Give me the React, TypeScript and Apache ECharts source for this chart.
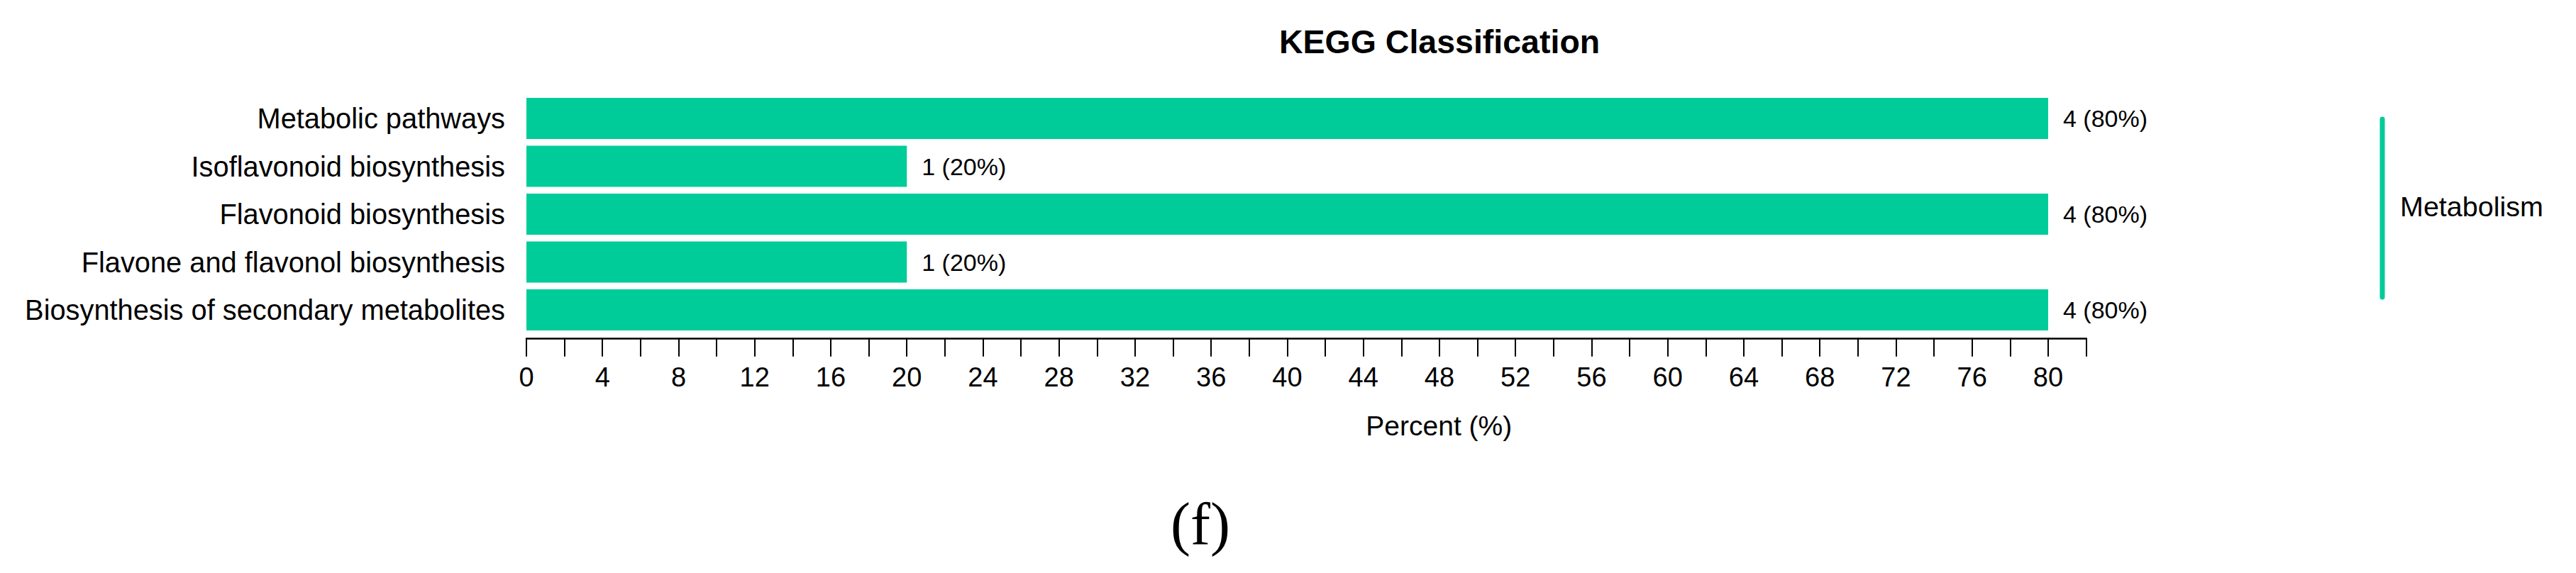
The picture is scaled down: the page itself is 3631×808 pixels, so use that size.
import React, { useEffect, useRef } from "react";
import * as echarts from "echarts";

const categories = [
  "Metabolic pathways",
  "Isoflavonoid biosynthesis",
  "Flavonoid biosynthesis",
  "Flavone and flavonol biosynthesis",
  "Biosynthesis of secondary metabolites",
];
const geneCounts = [4, 1, 4, 1, 4];
const percents = [80, 20, 80, 20, 80];
const classLabel = "Metabolism";
const titleText = "KEGG Classification";
const axisName = "Percent (%)";
const panelLabel = "(f)";

const SANS = '"Liberation Sans", Arial, Helvetica, sans-serif';
const SERIF = '"Liberation Serif", "Times New Roman", serif';
const GREEN = "#00CC99";

export default function App() {
  const ref = useRef<HTMLDivElement>(null);
  useEffect(() => {
    if (!ref.current) return;
    const chart = echarts.init(ref.current, null, { renderer: "svg" });
    chart.setOption({
      animation: false,
      backgroundColor: "#ffffff",
      title: {
        text: titleText,
        left: 1803,
        top: 35,
        padding: 0,
        textStyle: { fontFamily: SANS, fontSize: 46.5, fontWeight: "bold", color: "#000" },
      },
      grid: { left: 742, right: 690.4, top: 133.25, height: 337.5, containLabel: false },
      xAxis: {
        type: "value",
        min: 0,
        max: 82,
        interval: 2,
        offset: 6,
        splitLine: { show: false },
        axisLine: { show: true, lineStyle: { color: "#000", width: 2.5 } },
        axisTick: { show: true, length: 26, lineStyle: { color: "#000", width: 2 } },
        axisLabel: {
          margin: 36,
          fontFamily: SANS,
          fontSize: 38,
          color: "#000",
          showMaxLabel: true,
          formatter: (v: number) => (v % 4 === 0 ? String(v) : ""),
        },
        name: axisName,
        nameLocation: "middle",
        nameGap: 104,
        nameTextStyle: {
          fontFamily: SANS,
          fontSize: 39,
          color: "#000",
          padding: [0, 0, 0, 374],
        },
      },
      yAxis: {
        type: "category",
        inverse: true,
        data: categories,
        axisLine: { show: false },
        axisTick: { show: false },
        axisLabel: { margin: 30, fontFamily: SANS, fontSize: 39.8, color: "#000" },
      },
      series: [
        {
          type: "bar",
          data: percents,
          barWidth: 58,
          itemStyle: { color: GREEN },
          label: {
            show: true,
            position: "right",
            distance: 21,
            fontFamily: SANS,
            fontSize: 34,
            color: "#000",
            formatter: (p: any) => `${geneCounts[p.dataIndex]} (${percents[p.dataIndex]}%)`,
          },
        },
      ],
      graphic: [
        {
          type: "line",
          shape: { x1: 3358, y1: 168, x2: 3358, y2: 419 },
          style: { stroke: GREEN, lineWidth: 7, lineCap: "round" },
        },
        {
          type: "text",
          x: 3383,
          y: 291,
          style: {
            text: classLabel,
            fontFamily: SANS,
            fontSize: 39.5,
            fill: "#000",
            textAlign: "left",
            textVerticalAlign: "middle",
          },
        },
        {
          type: "text",
          x: 1692,
          y: 738,
          style: {
            text: panelLabel,
            fontFamily: SERIF,
            fontSize: 84,
            fill: "#000",
            textAlign: "center",
            textVerticalAlign: "middle",
          },
        },
      ],
    });
    return () => chart.dispose();
  }, []);
  return (
    <div
      ref={ref}
      style={{ position: "fixed", left: 0, top: 0, width: 3631, height: 808, background: "#fff" }}
    />
  );
}
